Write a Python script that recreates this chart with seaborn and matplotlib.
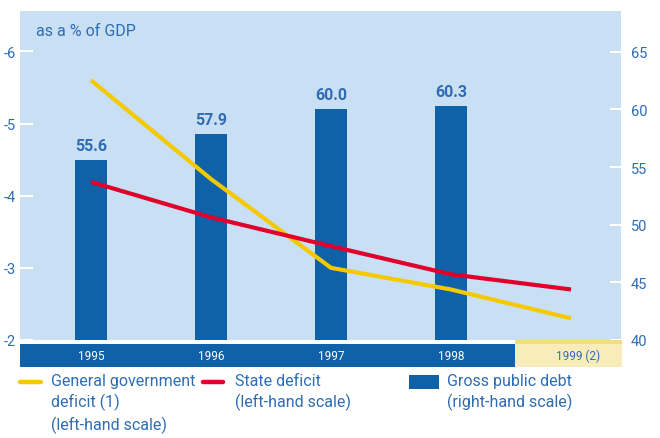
import numpy as np
import pandas as pd
import matplotlib
matplotlib.use("Agg")
import matplotlib.pyplot as plt
from matplotlib.lines import Line2D
from matplotlib.patches import Rectangle
import seaborn as sns

# ---- data ----
years = ['1995', '1996', '1997', '1998', '1999 (2)']
debt_years = ['1995', '1996', '1997', '1998']
debt = [55.6, 57.9, 60.0, 60.3]
gen_deficit = [-5.6, -4.23, -3.0, -2.7, -2.3]
state_deficit = [-4.19, -3.7, -3.3, -2.91, -2.7]
left_ticks = [-6, -5, -4, -3, -2]
right_ticks = [40, 45, 50, 55, 60, 65]
legend_labels = ['General government\ndeficit (1)\n(left-hand scale)',
                 'State deficit\n(left-hand scale)',
                 'Gross public debt\n(right-hand scale)']

# ---- style ----
BG = '#c9dff3'
BAR = '#0f61a8'
TXT = '#2e6db4'
YEL = '#f5c900'
RED = '#e1002b'
PALE = '#f8ecbb'
DKY = '#f1dd7c'

sns.set_style('white')
FAM = ['Roboto', 'DejaVu Sans']
plt.rcParams['font.family'] = FAM

W, H = 660, 439
fig = plt.figure(figsize=(W / 100, H / 100), dpi=100)

def fx(px):
    return px / W

def fy(py):
    return 1 - py / H

x0, x1, y0, y1 = 20, 621, 12, 341
ax = fig.add_axes([fx(x0), fy(y1), fx(x1 - x0), (y1 - y0) / H])
ax.set_facecolor(BG)
ax2 = ax.twinx()

df_bar = pd.DataFrame({'year': debt_years, 'debt': debt})
sns.barplot(data=df_bar, x='year', y='debt', order=years, color=BAR,
            width=0.267, saturation=1, ax=ax, zorder=2, edgecolor='none',
            linewidth=0)
xmin, xmax = (x0 - 91) / 120, (x1 - 91) / 120
ax.set_xlim(xmin, xmax)
ax.set_ylim(40, 65 + 40.7 / 11.52)
for c in ax.containers:
    ax.bar_label(c, labels=[f'{v:.1f}' for v in debt], padding=5,
                 color=TXT, fontsize=11.5, fontweight='bold')
ax.yaxis.tick_right()
ax.set_yticks(right_ticks)
ax.set_yticklabels([str(t) for t in right_ticks])
ax.tick_params(axis='y', right=True, direction='in', length=8, width=1.5,
               color='white', labelcolor=TXT, labelsize=10.5, pad=7)
ax.set_xticks([])
ax.set_xlabel('')
ax.set_ylabel('')
for s in ax.spines.values():
    s.set_visible(False)

pos = np.arange(len(years))
df_line = pd.DataFrame({'pos': pos, 'gen': gen_deficit, 'state': state_deficit})
sns.lineplot(data=df_line, x='pos', y='gen', color=YEL, lw=3, ax=ax2,
             solid_capstyle='butt', zorder=3)
sns.lineplot(data=df_line, x='pos', y='state', color=RED, lw=3, ax=ax2,
             solid_capstyle='butt', zorder=3)
ax2.set_xlim(xmin, xmax)
ax2.set_ylim(-2, -6 - 40.3 / 72.1)
ax2.yaxis.tick_left()
ax2.set_yticks(left_ticks)
ax2.set_yticklabels([str(t) for t in left_ticks])
ax2.tick_params(axis='y', left=True, direction='in', length=9, width=1.5,
                color='white', labelcolor=TXT, labelsize=10.5, pad=3)
ax2.set_xticks([])
ax2.set_xlabel('')
ax2.set_ylabel('')
for s in ax2.spines.values():
    s.set_visible(False)

ax.text(0.027, 0.965, 'as a % of GDP', transform=ax.transAxes, color=TXT,
        fontsize=11.5, ha='left', va='top')

# ---- year band ----
axb = fig.add_axes([fx(x0), fy(368), fx(622 - x0), 27 / H])
axb.set_xlim(xmin, xmax)
axb.set_ylim(0, 27)
axb.axis('off')
split = 3.53
axb.add_patch(Rectangle((xmin, 0), split - xmin, 23, color=BAR, lw=0))
axb.add_patch(Rectangle((split, 0), xmax - split + 0.01, 23, color=PALE, lw=0))
axb.add_patch(Rectangle((split, 23), xmax - split + 0.01, 4, color=DKY, lw=0))
for i, y in enumerate(years):
    last = i == len(years) - 1
    axb.text(i + (0.05 if last else 0), 11.5, y, ha='center', va='center',
             color=TXT if last else 'white', fontsize=8.5)

# ---- legend ----
fig.add_artist(Line2D([fx(20), fx(41)], [fy(383), fy(383)], color=YEL, lw=3.2))
fig.add_artist(Line2D([fx(203), fx(223)], [fy(383), fy(383)], color=RED, lw=3.2))
fig.add_artist(Rectangle((fx(409), fy(390)), fx(30), 14 / H, color=BAR, lw=0,
                         transform=fig.transFigure))
for xp, lab in zip([51, 235, 447], legend_labels):
    fig.text(fx(xp), fy(374), lab, ha='left', va='top', color=TXT,
             fontsize=11.5, linespacing=1.38)

fig.savefig('out.png', dpi=100)
